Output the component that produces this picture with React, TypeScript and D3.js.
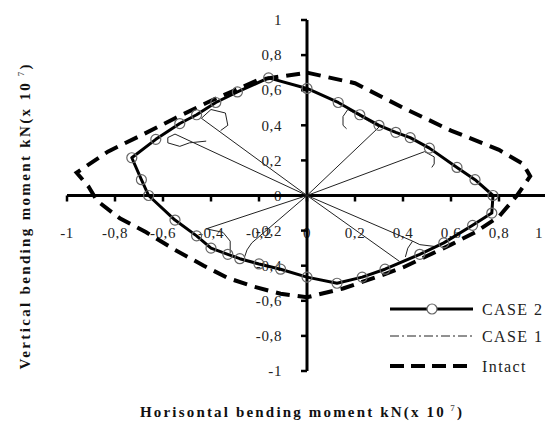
import React from "react";
import * as d3 from "d3";

// Interaction diagram: horizontal vs vertical bending moment (x 10^7 kN)
type Pt = [number, number];

const xTicks = [-1, -0.8, -0.6, -0.4, -0.2, 0, 0.2, 0.4, 0.6, 0.8, 1];
const yTicks = [-1, -0.8, -0.6, -0.4, -0.2, 0, 0.2, 0.4, 0.6, 0.8, 1];

// CASE 2 envelope (closed loop, clockwise from the top)
const case2: Pt[] = [
  [0.0, 0.61], [0.13, 0.53], [0.22, 0.46], [0.3, 0.4], [0.37, 0.36],
  [0.43, 0.33], [0.51, 0.27], [0.625, 0.16], [0.7, 0.09], [0.775, 0.0],
  [0.77, -0.1], [0.69, -0.17], [0.57, -0.27], [0.47, -0.335], [0.325, -0.42],
  [0.23, -0.465], [0.125, -0.5], [0.0, -0.465], [-0.11, -0.42], [-0.2, -0.39],
  [-0.28, -0.36], [-0.33, -0.335], [-0.4, -0.3], [-0.46, -0.23], [-0.55, -0.14],
  [-0.66, 0.0], [-0.69, 0.09], [-0.73, 0.215], [-0.63, 0.32], [-0.53, 0.41],
  [-0.46, 0.46], [-0.38, 0.53], [-0.29, 0.59], [-0.16, 0.67], [0.0, 0.61],
];

// Intact section envelope
const intact: Pt[] = [
  [0.0, 0.7], [0.2, 0.64], [0.4, 0.5], [0.6, 0.37], [0.8, 0.26], [0.9, 0.18],
  [0.93, 0.11], [0.875, 0.0], [0.8, -0.12], [0.7, -0.21], [0.6, -0.28],
  [0.5, -0.345], [0.4, -0.41], [0.3, -0.46], [0.15, -0.53], [0.0, -0.58],
  [-0.11, -0.56], [-0.22, -0.52], [-0.33, -0.47], [-0.43, -0.4], [-0.55, -0.31],
  [-0.67, -0.21], [-0.78, -0.13], [-0.875, -0.03], [-0.91, 0.05], [-0.96, 0.13],
  [-0.83, 0.25], [-0.68, 0.35], [-0.55, 0.44], [-0.4, 0.54], [-0.2, 0.66],
  [0.0, 0.7],
];

// CASE 1 load paths: radial loading from the origin, then the post-peak curl
const case1Paths: Pt[][] = [
  [[0, 0], [-0.44, 0.44], [-0.4, 0.49], [-0.34, 0.47], [-0.33, 0.4], [-0.36, 0.37]],
  [[0, 0], [-0.55, 0.35], [-0.58, 0.33], [-0.58, 0.3], [-0.53, 0.28], [-0.49, 0.3], [-0.42, 0.31]],
  [[0, 0], [0.3, 0.39], [0.17, 0.49], [0.15, 0.45], [0.15, 0.4], [0.165, 0.38]],
  [[0, 0], [0.49, 0.25], [0.53, 0.22], [0.53, 0.18], [0.52, 0.16]],
  [[0, 0], [0.44, -0.26], [0.47, -0.28], [0.53, -0.29]],
  [[0.44, -0.26], [0.42, -0.3], [0.41, -0.35]],
  [[0, 0], [0.385, -0.375]],
  [[0, 0], [-0.42, -0.19], [-0.35, -0.21], [-0.32, -0.26], [-0.32, -0.33]],
  [[0, 0], [-0.23, -0.27], [-0.25, -0.31], [-0.26, -0.35]],
];

const legendItems = ["CASE 2", "CASE 1", "Intact"];

const W = 545;
const H = 426;
const FONT = "'Liberation Serif', 'Times New Roman', serif";

const fmt = (v: number) => (v === 0 ? "0" : String(v).replace(".", ","));

export default function App() {
  const x = d3.scaleLinear().domain([-1, 1]).range([67, 547]);
  const y = d3.scaleLinear().domain([-1, 1]).range([371, 20]);
  const line = d3
    .line<Pt>()
    .x((d) => x(d[0]))
    .y((d) => y(d[1]));

  const x0 = x(0);
  const y0 = y(0);

  return (
    <svg
      width={W}
      height={H}
      style={{ position: "absolute", left: 0, top: 0, background: "#fff", display: "block" }}
      fontFamily={FONT}
    >
      <rect width={W} height={H} fill="#fff" />

      {/* tick labels */}
      {xTicks.map((t) => (
        <text
          key={"xl" + t}
          x={Math.min(x(t), W - 6)}
          y={y0 + 42}
          textAnchor="middle"
          fontSize={15}
          fill="#222"
          letterSpacing={0.6}
        >
          {fmt(t)}
        </text>
      ))}
      {yTicks.map((t) => (
        <text
          key={"yl" + t}
          x={x0 - 25}
          y={y(t)}
          dy="0.35em"
          textAnchor="end"
          fontSize={15}
          fill="#222"
          letterSpacing={0.6}
        >
          {fmt(t)}
        </text>
      ))}

      {/* axes */}
      <line x1={x(-1)} x2={x(1)} y1={y0} y2={y0} stroke="#000" strokeWidth={3} />
      <line x1={x0} x2={x0} y1={y(1)} y2={y(-1)} stroke="#000" strokeWidth={3} />
      {xTicks.map((t) => (
        <line key={"xt" + t} x1={x(t)} x2={x(t)} y1={y0} y2={y0 + 6} stroke="#000" strokeWidth={2.5} />
      ))}
      {yTicks.map((t) => (
        <line key={"yt" + t} x1={x0 - 6} x2={x0} y1={y(t)} y2={y(t)} stroke="#000" strokeWidth={2.5} />
      ))}

      {/* CASE 1 */}
      {case1Paths.map((p, i) => (
        <path key={"c1" + i} d={line(p) || ""} fill="none" stroke="#222" strokeWidth={1} />
      ))}

      {/* Intact */}
      <path
        d={line(intact) || ""}
        fill="none"
        stroke="#000"
        strokeWidth={4}
        strokeDasharray="14 8"
      />

      {/* CASE 2 */}
      <path d={line(case2) || ""} fill="none" stroke="#000" strokeWidth={3} strokeLinejoin="round" />
      {case2.slice(0, -1).map((d, i) => (
        <circle key={"m" + i} cx={x(d[0])} cy={y(d[1])} r={5} fill="none" stroke="#666" strokeWidth={1.2} />
      ))}

      {/* legend */}
      <g>
        <line x1={390} x2={473} y1={309} y2={309} stroke="#000" strokeWidth={3} />
        <circle cx={432} cy={309} r={5} fill="#fff" stroke="#666" strokeWidth={1.2} />
        <line x1={390} x2={473} y1={336} y2={336} stroke="#222" strokeWidth={1} strokeDasharray="9 3 2 3" />
        <line x1={390} x2={470} y1={366} y2={366} stroke="#000" strokeWidth={4} strokeDasharray="14 7" />
        {legendItems.map((s, i) => (
          <text
            key={s}
            x={482}
            y={[309, 336, 366][i]}
            dy="0.35em"
            fontSize={16}
            fill="#222"
            letterSpacing={1.4}
          >
            {s}
          </text>
        ))}
      </g>

      {/* axis titles */}
      <text
        x={301}
        y={417}
        textAnchor="middle"
        fontSize={15}
        fontWeight="bold"
        fill="#111"
        textLength={322}
        lengthAdjust="spacing"
      >
        Horisontal bending moment kN(x 10
        <tspan fontSize={9} dy={-6} fill="#666"> 7</tspan>
        <tspan dy={6}>)</tspan>
      </text>
      <text
        transform="translate(30,217) rotate(-90)"
        textAnchor="middle"
        fontSize={15}
        fontWeight="bold"
        fill="#111"
        textLength={305}
        lengthAdjust="spacing"
      >
        Vertical bending moment  kN(x 10
        <tspan fontSize={9} dy={-6} fill="#666"> 7</tspan>
        <tspan dy={6}>)</tspan>
      </text>
    </svg>
  );
}
